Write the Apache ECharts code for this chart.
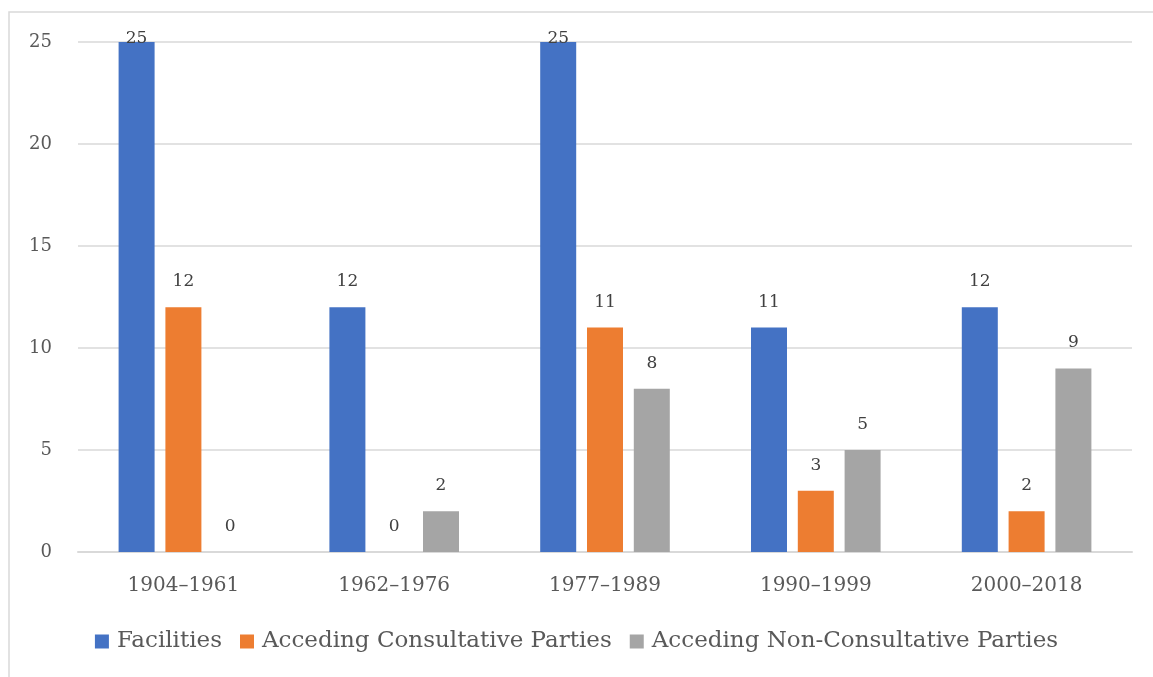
<!DOCTYPE html>
<html>
<head>
<meta charset="utf-8">
<style>
  html, body { margin: 0; padding: 0; background: #fff; }
  #chart { width: 1153px; height: 677px; }
</style>
<script src="https://cdn.jsdelivr.net/npm/echarts@6/dist/echarts.min.js"></script>
</head>
<body>
<div id="chart"></div>
<script>
// Periods of accession to the Antarctic Treaty system
const periods = ['1904–1961', '1962–1976', '1977–1989', '1990–1999', '2000–2018'];
const facilities = [25, 12, 25, 11, 12];
const consultative = [12, 0, 11, 3, 2];
const nonConsultative = [0, 2, 8, 5, 9];
const yTicks = [0, 5, 10, 15, 20, 25];

const FONT = '"DejaVu Serif", "Liberation Serif", serif';
const AXIS_MAX = yTicks[yTicks.length - 1];

// Labels above the bars; a bar reaching the top of the plot keeps its label inside
function withLabels(values) {
  return values.map(v => v >= AXIS_MAX
    ? { value: v, label: { distance: -5 } }
    : v);
}

function barSeries(name, values, color) {
  return {
    name: name,
    type: 'bar',
    data: withLabels(values),
    barWidth: 36,
    barGap: '30%',
    itemStyle: { color: color },
    label: {
      show: true,
      position: 'top',
      distance: 17,
      color: '#404040',
      fontFamily: FONT,
      fontSize: 17
    }
  };
}

const chart = echarts.init(document.getElementById('chart'));
chart.setOption({
  animation: false,
  backgroundColor: '#fff',
  graphic: [{
    type: 'rect',
    shape: { x: 9, y: 12, width: 1200, height: 720 },
    style: { fill: 'none', stroke: '#d9d9d9', lineWidth: 1.5 },
    silent: true
  }],
  grid: { left: 78, right: 21, top: 42, bottom: 125 },
  legend: {
    bottom: 19,
    left: 'center',
    itemWidth: 14,
    itemHeight: 14,
    itemGap: 18,
    icon: 'rect',
    textStyle: { color: '#595959', fontFamily: FONT, fontSize: 23, padding: [0, 0, 0, 3] },
    data: ['Facilities', 'Acceding Consultative Parties', 'Acceding Non-Consultative Parties']
  },
  xAxis: {
    type: 'category',
    data: periods,
    axisLine: { lineStyle: { color: '#d9d9d9', width: 2 } },
    axisTick: { show: false },
    axisLabel: { color: '#595959', fontFamily: FONT, fontSize: 20, margin: 24 }
  },
  yAxis: {
    type: 'value',
    min: yTicks[0],
    max: AXIS_MAX,
    interval: yTicks[1] - yTicks[0],
    axisLine: { show: false },
    axisTick: { show: false },
    splitLine: { lineStyle: { color: '#d9d9d9', width: 1.5 } },
    axisLabel: { color: '#595959', fontFamily: FONT, fontSize: 18, margin: 26 }
  },
  series: [
    barSeries('Facilities', facilities, '#4472c4'),
    barSeries('Acceding Consultative Parties', consultative, '#ed7d31'),
    barSeries('Acceding Non-Consultative Parties', nonConsultative, '#a5a5a5')
  ]
});
</script>
</body>
</html>
